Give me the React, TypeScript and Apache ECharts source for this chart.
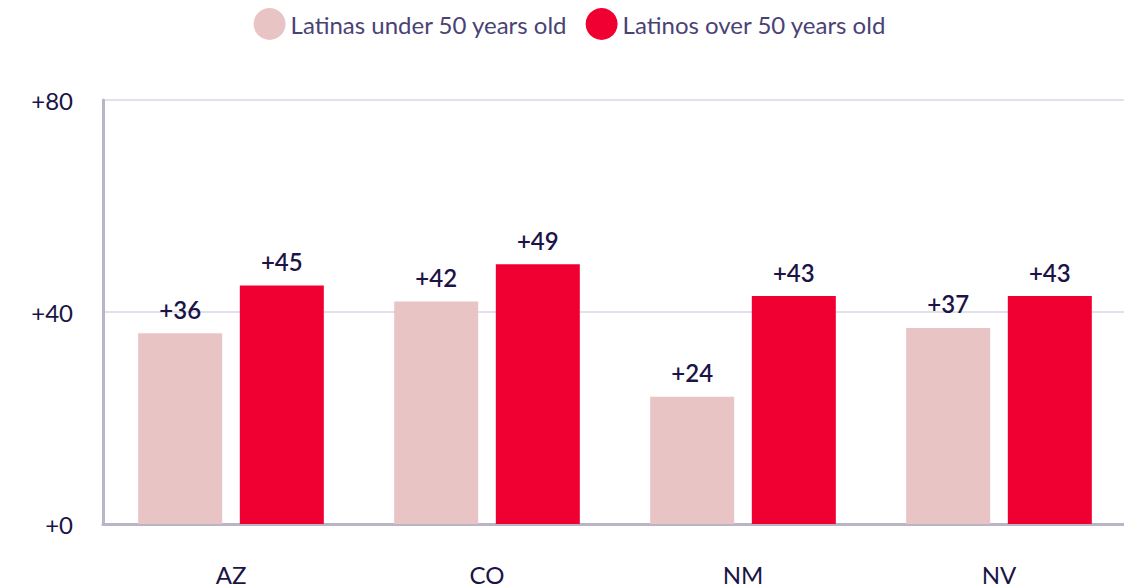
import React, { useEffect, useRef } from "react";
import * as echarts from "echarts";

const categories = ["AZ", "CO", "NM", "NV"];
const underFifty = [36, 42, 24, 37];
const overFifty = [45, 49, 43, 43];
const seriesNames = ["Latinas under 50 years old", "Latinos over 50 years old"];

export default function App() {
  const ref = useRef<HTMLDivElement>(null);
  useEffect(() => {
    const chart = echarts.init(ref.current!, null, { renderer: "svg" });
    const labelStyle = {
      show: true,
      position: "top",
      distance: 12,
      formatter: (p: any) => "+" + p.value,
      color: "#1b1446",
      fontSize: 24,
      fontWeight: 600,
      fontFamily: "Lato",
    };
    chart.setOption({
      animation: false,
      legend: {
        top: 0,
        padding: 0,
        left: "center",
        icon: "circle",
        itemWidth: 32,
        itemHeight: 32,
        itemGap: 18,
        textStyle: { color: "#4a4275", fontSize: 24, fontFamily: "Lato" },
        data: seriesNames,
      },
      grid: { left: 95, right: 5, top: 92, bottom: 64, containLabel: false },
      xAxis: {
        type: "category",
        data: categories,
        axisLine: { show: true, lineStyle: { color: "#b8b5c8", width: 3 } },
        axisTick: { show: false },
        axisLabel: { color: "#1b1446", fontSize: 24, fontFamily: "Lato", margin: 38 },
      },
      yAxis: {
        type: "value",
        min: 0,
        max: 80,
        interval: 40,
        axisLine: { show: true, lineStyle: { color: "#b8b5c8", width: 3 } },
        axisTick: { show: false },
        splitLine: { lineStyle: { color: "#e2e0ea", width: 2 } },
        axisLabel: {
          color: "#1b1446",
          fontSize: 24,
          fontFamily: "Lato",
          margin: 30,
          formatter: (v: number) => "+" + v,
        },
      },
      series: [
        {
          name: seriesNames[0],
          type: "bar",
          data: underFifty,
          barWidth: 84,
          barGap: "21%",
          itemStyle: { color: "#e8c4c4" },
          label: labelStyle,
        },
        {
          name: seriesNames[1],
          type: "bar",
          data: overFifty,
          barWidth: 84,
          itemStyle: { color: "#f00032" },
          label: labelStyle,
        },
      ],
    });
    return () => chart.dispose();
  }, []);
  return <div ref={ref} style={{ width: 1124, height: 580 }} />;
}
